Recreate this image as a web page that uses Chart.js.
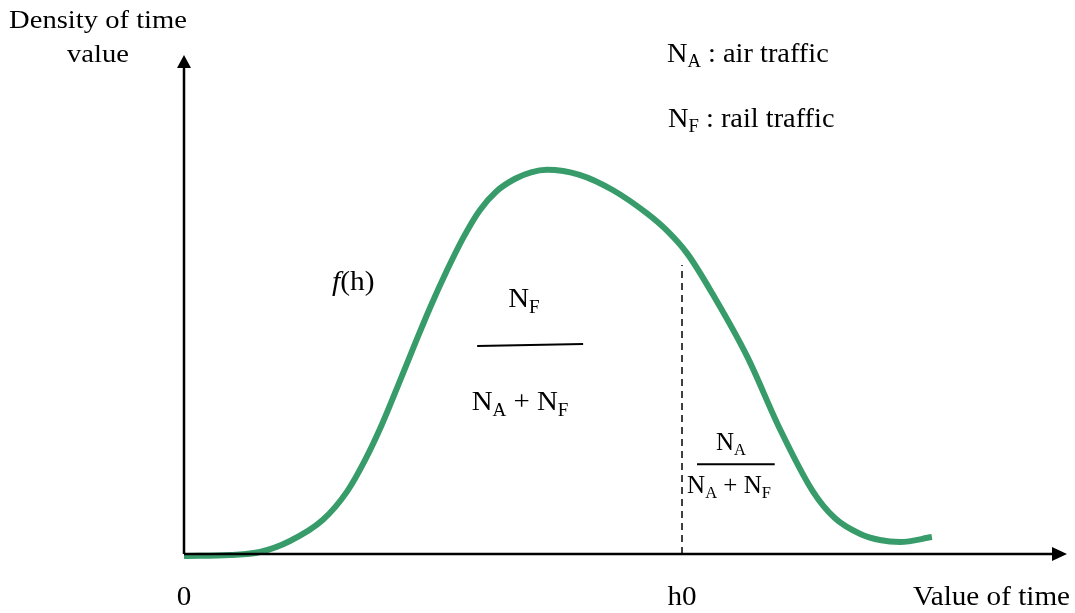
<!DOCTYPE html>
<html>
<head>
<meta charset="utf-8">
<script src="https://cdn.jsdelivr.net/npm/chart.js@4.4.1/dist/chart.umd.min.js"></script>
<style>
  html, body { margin: 0; padding: 0; background: #fff; }
  #wrap { width: 1075px; height: 613px; position: relative; }
</style>
</head>
<body>
<div id="wrap"><canvas id="densityChart"></canvas></div>
<script>
// curve of f(h) (x: value of time, y: density), 0..100 units
const timeValues    = [0, 5.2, 8.6, 12.0, 15.7, 18.5, 20.5, 22.4, 24.5, 26.2, 27.9, 29.8, 31.6, 33.5, 35.4, 37.5, 39.3, 41.1, 44.8, 48.6, 52.4, 54.7, 57.0, 59.9, 63.8, 67.5, 71.2, 73.7, 76.6, 78.8, 81.1, 84.7];
const densityValues = [-0.4, -0.2, 0.4, 2.6, 6.8, 12.6, 18.8, 25.9, 34.9, 42.3, 49.5, 56.9, 63.3, 68.9, 72.7, 75.2, 76.5, 77.0, 76.0, 72.9, 68.3, 64.8, 60.2, 52.0, 39.5, 25.0, 12.6, 7.2, 4.0, 2.8, 2.4, 3.4];
// threshold h0 and height of the dashed line at h0
const h0Value = 56.4;
const h0Density = 57.9;
const axisTickLabels = ['0', 'h0'];

const green = '#389c6a';
const serif = '"Liberation Serif", "Times New Roman", serif';

// draw text made of pieces, some of them subscripts
function richText(ctx, parts, x, y, size, align, sx) {
    let w = 0;
    parts.forEach(p => {
        ctx.font = (p[2] || '') + ' ' + (p[1] ? size * 0.66 : size) + 'px ' + serif;
        w += ctx.measureText(p[0]).width;
    });
    ctx.save();
    ctx.translate(x, y);
    ctx.scale(sx || 1, 1);
    let cx = align === 'center' ? -w / 2 : (align === 'right' ? -w : 0);
    ctx.textAlign = 'left';
    ctx.textBaseline = 'alphabetic';
    ctx.fillStyle = '#000';
    parts.forEach(p => {
        ctx.font = (p[2] || '') + ' ' + (p[1] ? size * 0.66 : size) + 'px ' + serif;
        ctx.fillText(p[0], cx, p[1] ? size * 0.2 : 0);
        cx += ctx.measureText(p[0]).width;
    });
    ctx.restore();
}

const diagramPlugin = {
    id: 'diagram',
    afterDatasetsDraw(chart) {
        const ctx = chart.ctx;
        const xs = chart.scales.x, ys = chart.scales.y;
        const x0 = xs.getPixelForValue(0), y0 = ys.getPixelForValue(0);
        const xEnd = xs.getPixelForValue(100), yEnd = ys.getPixelForValue(100);
        ctx.save();
        ctx.strokeStyle = '#000';
        ctx.fillStyle = '#000';
        ctx.lineWidth = 2.5;
        // axes
        ctx.beginPath();
        ctx.moveTo(x0, y0); ctx.lineTo(xEnd - 12, y0);
        ctx.moveTo(x0, y0); ctx.lineTo(x0, yEnd + 12);
        ctx.stroke();
        ctx.beginPath();
        ctx.moveTo(xEnd, y0); ctx.lineTo(xEnd - 15, y0 - 7); ctx.lineTo(xEnd - 15, y0 + 7); ctx.closePath();
        ctx.fill();
        ctx.beginPath();
        ctx.moveTo(x0, yEnd); ctx.lineTo(x0 - 7, yEnd + 13); ctx.lineTo(x0 + 7, yEnd + 13); ctx.closePath();
        ctx.fill();

        // fraction bars
        ctx.lineWidth = 2;
        ctx.beginPath();
        ctx.moveTo(xs.getPixelForValue(33.2), ys.getPixelForValue(41.7));
        ctx.lineTo(xs.getPixelForValue(45.2), ys.getPixelForValue(42.1));
        ctx.moveTo(xs.getPixelForValue(58.1), ys.getPixelForValue(18.0));
        ctx.lineTo(xs.getPixelForValue(66.9), ys.getPixelForValue(18.0));
        ctx.stroke();
        ctx.restore();

        // labels
        richText(ctx, [['Density of time']], 98, 28, 26, 'center', 1.1);
        richText(ctx, [['value']], 98, 62, 26, 'center', 1.1);
        richText(ctx, [['N'], ['A', 1], [' : air traffic']], 667, 62, 27, 'left', 1.05);
        richText(ctx, [['N'], ['F', 1], [' : rail traffic']], 668, 127, 27, 'left', 1.05);
        richText(ctx, [['f', 0, 'italic'], ['(h)']], 332, 290, 28, 'left', 1.05);
        richText(ctx, [['N'], ['F', 1]], 524, 307, 28, 'center', 1.03);
        richText(ctx, [['N'], ['A', 1], [' + N'], ['F', 1]], 520, 410, 28, 'center', 1.03);
        richText(ctx, [['N'], ['A', 1]], 731, 450, 25, 'center', 1);
        richText(ctx, [['N'], ['A', 1], [' + N'], ['F', 1]], 729, 493, 25, 'center', 1);
        // bottom labels
        richText(ctx, [[axisTickLabels[0]]], x0, 605, 27, 'center', 1.08);
        richText(ctx, [[axisTickLabels[1]]], xs.getPixelForValue(h0Value), 605, 27, 'center', 1.08);
        richText(ctx, [['Value of time']], 1070, 605, 27, 'right', 1.08);
    }
};

const chartCanvas = document.getElementById('densityChart').getContext('2d');
const densityChart = new Chart(chartCanvas, {
    type: 'line',
    data: {
        datasets: [{
            label: 'f(h)',
            data: timeValues.map((t, i) => ({ x: t, y: densityValues[i] })),
            borderColor: green,
            borderWidth: 6,
            pointRadius: 0,
            cubicInterpolationMode: 'monotone',
            fill: false,
            clip: false
        }, {
            label: 'h0',
            data: [{ x: h0Value, y: 0 }, { x: h0Value, y: h0Density }],
            borderColor: '#000',
            borderWidth: 1.5,
            borderDash: [7, 5],
            pointRadius: 0,
            clip: false
        }]
    },
    options: {
        responsive: true,
        maintainAspectRatio: false,
        animation: false,
        layout: { padding: { left: 184, right: 8, top: 55, bottom: 59 } },
        scales: {
            x: { type: 'linear', min: 0, max: 100, display: false },
            y: { type: 'linear', min: 0, max: 100, display: false }
        },
        plugins: {
            legend: { display: false },
            tooltip: { enabled: false }
        }
    },
    plugins: [diagramPlugin]
});
</script>
</body>
</html>
